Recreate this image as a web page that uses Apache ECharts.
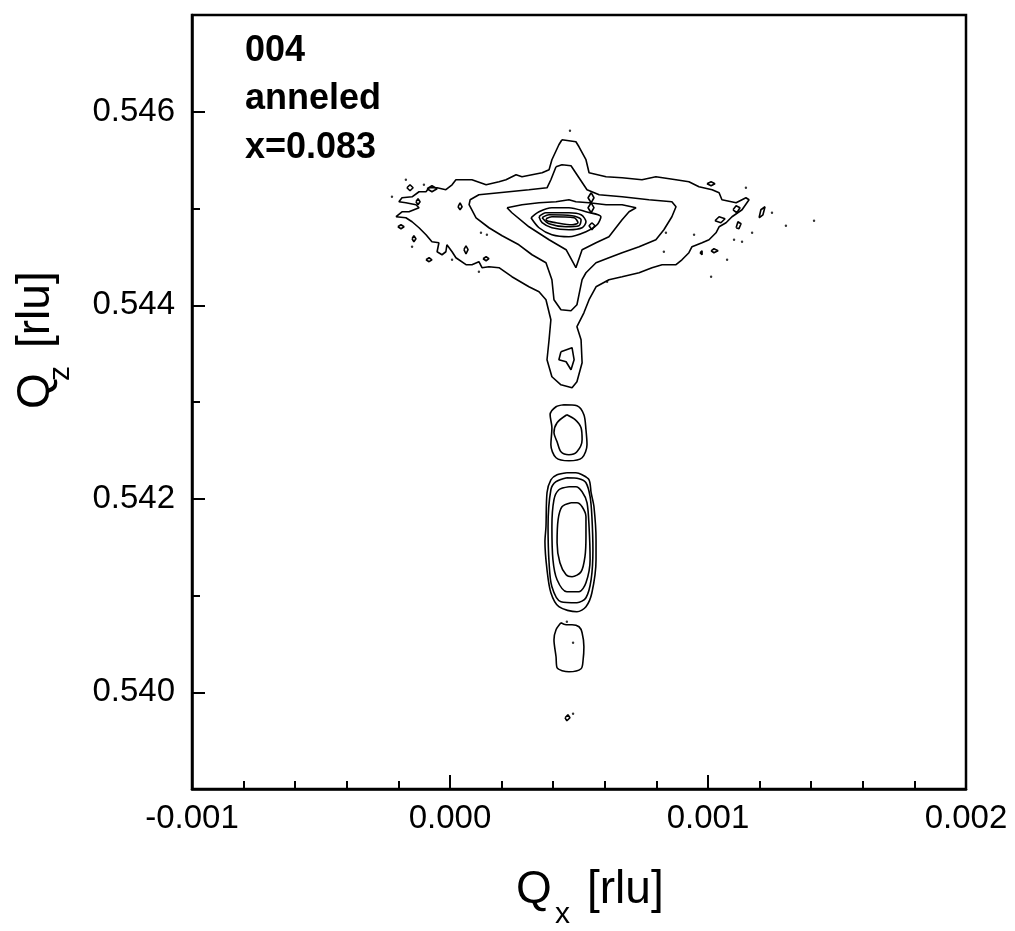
<!DOCTYPE html>
<html>
<head>
<meta charset="utf-8">
<script src="https://cdn.jsdelivr.net/npm/echarts@6/dist/echarts.min.js"></script>
<style>
html,body{margin:0;padding:0;background:#fff;}
#chart{width:1015px;height:931px;}
</style>
</head>
<body>
<div id="chart"></div>
<script>
// ---------- axis settings / labels ----------
const qxRange = [-0.001, 0.002];
const qzRange = [0.539, 0.547];
const qzLabelValues = [0.540, 0.542, 0.544, 0.546];
const annotationLines = ['004', 'anneled', 'x=0.083'];

// ---------- contour lines, [Qx, Qz] in rlu ----------
const contourOuter = [
[0.000434,0.545711],[0.000422,0.545659],[0.000395,0.545504],[0.000384,0.545401],[0.000357,0.545369],
[0.000318,0.545349],[0.000279,0.545328],[0.000256,0.545349],[0.000217,0.545297],[0.000190,0.545276],
[0.000140,0.545245],[0.000085,0.545297],[0.000023,0.545297],[0.000008,0.545245],[-0.000016,0.545194],
[-0.000050,0.545214],[-0.000081,0.545214],[-0.000093,0.545173],[-0.000120,0.545173],[-0.000147,0.545121],
[-0.000186,0.545111],[-0.000198,0.545070],[-0.000171,0.545059],[-0.000132,0.545039],[-0.000120,0.545008],
[-0.000159,0.544966],[-0.000186,0.544966],[-0.000209,0.544915],[-0.000171,0.544904],[-0.000147,0.544863],
[-0.000120,0.544801],[-0.000093,0.544729],[-0.000070,0.544656],[-0.000043,0.544646],[-0.000050,0.544553],
[-0.000031,0.544522],[-0.000016,0.544553],[-0.000012,0.544625],[0.000008,0.544553],[0.000023,0.544491],
[0.000062,0.544419],[0.000085,0.544419],[0.000112,0.544450],[0.000124,0.544388],[0.000151,0.544398],
[0.000190,0.544388],[0.000240,0.544295],[0.000306,0.544191],[0.000345,0.544140],[0.000372,0.544057],
[0.000391,0.543850],[0.000384,0.543643],[0.000376,0.543437],[0.000395,0.543261],[0.000430,0.543178],
[0.000473,0.543147],[0.000492,0.543209],[0.000512,0.543406],[0.000508,0.543643],[0.000492,0.543778],
[0.000519,0.543922],[0.000539,0.544057],[0.000566,0.544191],[0.000616,0.544264],[0.000667,0.544295],
[0.000733,0.544336],[0.000783,0.544388],[0.000822,0.544419],[0.000876,0.544419],[0.000899,0.544470],
[0.000926,0.544543],[0.000938,0.544605],[0.000977,0.544646],[0.001004,0.544677],[0.001031,0.544749],
[0.001043,0.544811],[0.001070,0.544853],[0.001093,0.544915],[0.001132,0.544987],[0.001159,0.545090],
[0.001147,0.545111],[0.001109,0.545059],[0.001054,0.545090],[0.001043,0.545163],[0.001016,0.545194],
[0.000965,0.545225],[0.000926,0.545276],[0.000876,0.545297],[0.000798,0.545328],[0.000744,0.545297],
[0.000667,0.545318],[0.000605,0.545328],[0.000539,0.545369],[0.000527,0.545504],[0.000500,0.545638],
[0.000488,0.545690],[0.000434,0.545711]
];
const contourLevel2 = [
[0.000411,0.545432],[0.000391,0.545297],[0.000376,0.545214],[0.000306,0.545194],[0.000190,0.545163],
[0.000112,0.545142],[0.000078,0.545090],[0.000074,0.545039],[0.000101,0.544904],[0.000151,0.544801],
[0.000202,0.544718],[0.000267,0.544625],[0.000318,0.544522],[0.000372,0.544439],[0.000395,0.544264],
[0.000403,0.544057],[0.000430,0.543953],[0.000469,0.543943],[0.000492,0.544005],[0.000500,0.544109],
[0.000512,0.544264],[0.000527,0.544336],[0.000566,0.544439],[0.000616,0.544491],[0.000667,0.544543],
[0.000733,0.544605],[0.000798,0.544677],[0.000829,0.544780],[0.000860,0.544915],[0.000876,0.545018],
[0.000860,0.545070],[0.000771,0.545090],[0.000667,0.545121],[0.000578,0.545142],[0.000531,0.545194],
[0.000500,0.545318],[0.000469,0.545442],[0.000434,0.545452],[0.000411,0.545432]
];
const contourLevel3 = [
[0.000221,0.545008],[0.000279,0.545039],[0.000345,0.545059],[0.000411,0.545070],[0.000461,0.545090],
[0.000488,0.545070],[0.000539,0.545059],[0.000605,0.545039],[0.000667,0.545039],[0.000721,0.545008],
[0.000694,0.544966],[0.000667,0.544884],[0.000616,0.544708],[0.000566,0.544646],[0.000512,0.544574],
[0.000488,0.544388],[0.000450,0.544574],[0.000384,0.544677],[0.000306,0.544811],[0.000240,0.544956],
[0.000221,0.545008]
];
const contourLevel4 = [
[0.000314,0.544904],[0.000345,0.544966],[0.000395,0.545008],[0.000461,0.545008],[0.000527,0.544966],
[0.000585,0.544915],[0.000570,0.544832],[0.000527,0.544760],[0.000461,0.544708],[0.000395,0.544729],
[0.000345,0.544801],[0.000314,0.544904]
];
const contourLevel5 = [
[0.000345,0.544915],[0.000372,0.544956],[0.000461,0.544956],[0.000508,0.544935],[0.000527,0.544863],
[0.000512,0.544801],[0.000461,0.544780],[0.000395,0.544801],[0.000357,0.544853],[0.000345,0.544915]
];
const contourLevel6 = [
[0.000357,0.544904],[0.000384,0.544935],[0.000473,0.544925],[0.000508,0.544884],[0.000500,0.544822],
[0.000450,0.544811],[0.000384,0.544842],[0.000357,0.544904]
];
const contourLevel7 = [
[0.000372,0.544894],[0.000395,0.544915],[0.000481,0.544904],[0.000496,0.544853],[0.000473,0.544832],
[0.000411,0.544853],[0.000376,0.544873],[0.000372,0.544894]
];
const peakSideLoops = [
[[0.000547,0.545163],[0.000558,0.545111],[0.000547,0.545059],[0.000535,0.545111],[0.000547,0.545163]],
[[0.000547,0.545059],[0.000558,0.545008],[0.000547,0.544956],[0.000535,0.545008],[0.000547,0.545059]],
[[0.000550,0.544853],[0.000562,0.544822],[0.000550,0.544780],[0.000539,0.544822],[0.000550,0.544853]]
];
const spikeLoop = [
[0.000430,0.543519],[0.000473,0.543561],[0.000481,0.543437],[0.000469,0.543333],[0.000450,0.543416],
[0.000422,0.543437],[0.000430,0.543519]
];
const islandMidOuter = [
[0.000442,0.542972],[0.000492,0.542961],[0.000519,0.542868],[0.000527,0.542713],[0.000531,0.542558],
[0.000512,0.542424],[0.000461,0.542393],[0.000411,0.542424],[0.000391,0.542558],[0.000395,0.542734],
[0.000388,0.542868],[0.000411,0.542951],[0.000442,0.542972]
];
const islandMidInner = [
[0.000453,0.542868],[0.000485,0.542817],[0.000508,0.542734],[0.000512,0.542610],[0.000492,0.542486],
[0.000461,0.542455],[0.000430,0.542486],[0.000415,0.542589],[0.000403,0.542682],[0.000415,0.542786],
[0.000453,0.542868]
];
const peakLowRing1 = [
[0.000453,0.542269],[0.000415,0.542248],[0.000391,0.542196],[0.000376,0.542062],[0.000372,0.541711],
[0.000368,0.541556],[0.000376,0.541266],[0.000391,0.541028],[0.000422,0.540884],[0.000492,0.540832],
[0.000527,0.540884],[0.000550,0.541028],[0.000566,0.541370],[0.000566,0.541576],[0.000558,0.541917],
[0.000547,0.542062],[0.000539,0.542196],[0.000512,0.542248],[0.000488,0.542269],[0.000453,0.542269]
];
const peakLowRing2 = [
[0.000453,0.542217],[0.000411,0.542176],[0.000391,0.542093],[0.000380,0.541711],[0.000384,0.541339],
[0.000395,0.541090],[0.000430,0.540935],[0.000492,0.540925],[0.000527,0.540977],[0.000547,0.541163],
[0.000554,0.541473],[0.000550,0.541814],[0.000543,0.542021],[0.000527,0.542165],[0.000500,0.542207],
[0.000453,0.542217]
];
const peakLowRing3 = [
[0.000461,0.542124],[0.000422,0.542093],[0.000403,0.541990],[0.000395,0.541711],[0.000399,0.541370],
[0.000415,0.541163],[0.000453,0.541039],[0.000500,0.541039],[0.000527,0.541132],[0.000543,0.541370],
[0.000539,0.541711],[0.000531,0.541959],[0.000512,0.542072],[0.000488,0.542124],[0.000461,0.542124]
];
const peakLowRing4 = [
[0.000469,0.541959],[0.000434,0.541917],[0.000419,0.541783],[0.000415,0.541545],[0.000426,0.541339],
[0.000450,0.541214],[0.000473,0.541194],[0.000508,0.541245],[0.000523,0.541400],[0.000527,0.541607],
[0.000527,0.541814],[0.000512,0.541917],[0.000492,0.541959],[0.000469,0.541959]
];
const islandLow = [
[0.000430,0.540718],[0.000411,0.540646],[0.000403,0.540542],[0.000411,0.540367],[0.000415,0.540253],
[0.000461,0.540212],[0.000508,0.540243],[0.000516,0.540336],[0.000519,0.540470],[0.000512,0.540615],
[0.000500,0.540677],[0.000473,0.540698],[0.000450,0.540698],[0.000430,0.540718]
];
const islandTiny = [
[0.000446,0.539736],[0.000457,0.539767],[0.000465,0.539736],[0.000453,0.539705],[0.000446,0.539736]
];
const wingIslandsLeft = [
[[-0.000167,0.545214],[-0.000155,0.545245],[-0.000143,0.545214],[-0.000155,0.545183],[-0.000167,0.545214]],
[[-0.000089,0.545204],[-0.000070,0.545235],[-0.000050,0.545204],[-0.000070,0.545173],[-0.000089,0.545204]],
[[-0.000132,0.545070],[-0.000124,0.545101],[-0.000116,0.545070],[-0.000124,0.545039],[-0.000132,0.545070]],
[[0.000031,0.545018],[0.000039,0.545059],[0.000047,0.545018],[0.000039,0.544987],[0.000031,0.545018]],
[[-0.000202,0.544811],[-0.000190,0.544832],[-0.000178,0.544811],[-0.000190,0.544791],[-0.000202,0.544811]],
[[-0.000147,0.544687],[-0.000140,0.544718],[-0.000132,0.544687],[-0.000140,0.544656],[-0.000147,0.544687]],
[[0.000054,0.544574],[0.000062,0.544615],[0.000070,0.544574],[0.000062,0.544532],[0.000054,0.544574]],
[[-0.000093,0.544470],[-0.000081,0.544491],[-0.000070,0.544470],[-0.000081,0.544450],[-0.000093,0.544470]],
[[0.000128,0.544481],[0.000140,0.544501],[0.000151,0.544481],[0.000140,0.544460],[0.000128,0.544481]]
];
const wingIslandsRight = [
[[0.000996,0.545256],[0.001012,0.545276],[0.001027,0.545256],[0.001012,0.545235],[0.000996,0.545256]],
[[0.001097,0.544987],[0.001109,0.545028],[0.001124,0.545008],[0.001112,0.544956],[0.001097,0.544987]],
[[0.001198,0.544904],[0.001205,0.544987],[0.001221,0.545018],[0.001213,0.544935],[0.001198,0.544904]],
[[0.001027,0.544873],[0.001043,0.544915],[0.001066,0.544894],[0.001050,0.544853],[0.001027,0.544873]],
[[0.001109,0.544801],[0.001116,0.544863],[0.001128,0.544842],[0.001120,0.544791],[0.001109,0.544801]],
[[0.001012,0.544563],[0.001023,0.544584],[0.001039,0.544563],[0.001023,0.544543],[0.001012,0.544563]],
[[0.000969,0.544543],[0.000977,0.544563],[0.000984,0.544543],[0.000977,0.544522],[0.000969,0.544543]]
];
const specks = [
[0.000465,0.545804],[0.000477,0.540512],[0.000453,0.540729],[0.000477,0.539778],[0.001411,0.544873],
[0.001147,0.545214],[0.001248,0.544956],[0.001302,0.544822],[0.001171,0.544749],[0.001101,0.544677],
[0.001132,0.544656],[0.001074,0.544470],[0.000837,0.544749],[0.000946,0.544729],[0.000829,0.544553],
[0.001012,0.544295],[-0.000225,0.545121],[-0.000171,0.545297],[-0.000101,0.545245],[0.000120,0.544749],
[0.000143,0.544729],[-0.000147,0.544605],[0.000008,0.544470],[0.000112,0.544346],[0.000609,0.544243]
];

// ---------- build chart ----------
const FONT = "'Liberation Sans', Arial, Helvetica, sans-serif";
const fmt = v => (Math.abs(v) < 1e-9 ? '0.000' : v.toFixed(3));

const roughLines = [contourOuter, contourLevel2, contourLevel3]
  .concat(wingIslandsLeft, wingIslandsRight, peakSideLoops, [spikeLoop, islandTiny]);
const smoothLines = [contourLevel4, contourLevel5, contourLevel6, contourLevel7,
  islandMidOuter, islandMidInner, peakLowRing1, peakLowRing2, peakLowRing3, peakLowRing4, islandLow];

const series = [];
roughLines.forEach(d => series.push({
  type: 'line', data: d, symbol: 'none', smooth: false, silent: true,
  lineStyle: { color: '#000', width: 1.6 }, animation: false
}));
smoothLines.forEach(d => series.push({
  type: 'line', data: d, symbol: 'none', smooth: 0.3, silent: true,
  lineStyle: { color: '#000', width: 1.6 }, animation: false
}));
series.push({
  type: 'scatter', data: specks, symbol: 'circle', symbolSize: 2.4, silent: true,
  itemStyle: { color: '#000' }, animation: false
});

const chart = echarts.init(document.getElementById('chart'), null, { renderer: 'canvas' });
chart.setOption({
  backgroundColor: '#fff',
  animation: false,
  grid: { left: 192, right: 49, top: 15, bottom: 142, show: true, borderColor: '#000', borderWidth: 2.5, backgroundColor: 'transparent' },
  xAxis: {
    type: 'value', min: qxRange[0], max: qxRange[1], interval: 0.001,
    axisLine: { onZero: false, lineStyle: { color: '#000', width: 2.5 } },
    axisTick: { inside: true, length: 14, lineStyle: { color: '#000', width: 2 } },
    minorTick: { show: true, splitNumber: 5, length: 8, lineStyle: { color: '#000', width: 2 } },
    splitLine: { show: false },
    axisLabel: { formatter: fmt, fontSize: 33, color: '#000', fontFamily: FONT, margin: 13 }
  },
  yAxis: [{
    type: 'value', min: qzRange[0], max: qzRange[1],
    axisLine: { onZero: false, lineStyle: { color: '#000', width: 2.5 } },
    axisTick: { inside: true, length: 13, customValues: qzLabelValues, lineStyle: { color: '#000', width: 2 } },
    splitLine: { show: false },
    axisLabel: { customValues: qzLabelValues, formatter: fmt, fontSize: 33, color: '#000', fontFamily: FONT, margin: 17 }
  }, {
    type: 'value', min: qzRange[0], max: qzRange[1], interval: 0.001, position: 'left', offset: 0,
    axisLine: { show: false, onZero: false },
    axisTick: { inside: true, length: 8, lineStyle: { color: '#000', width: 2 } },
    axisLabel: { show: false },
    splitLine: { show: false }
  }],
  graphic: [
    { type: 'text', x: 245, y: 51, style: { text: annotationLines[0], fontSize: 36, fontWeight: 'bold', fontFamily: FONT, fill: '#000', align: 'left', verticalAlign: 'middle' } },
    { type: 'text', x: 245, y: 99, style: { text: annotationLines[1], fontSize: 36, fontWeight: 'bold', fontFamily: FONT, fill: '#000', align: 'left', verticalAlign: 'middle' } },
    { type: 'text', x: 245, y: 148, style: { text: annotationLines[2], fontSize: 36, fontWeight: 'bold', fontFamily: FONT, fill: '#000', align: 'left', verticalAlign: 'middle' } },
    { type: 'text', x: 516, y: 890, style: { text: 'Q', fontSize: 46, fontFamily: FONT, fill: '#000', align: 'left', verticalAlign: 'middle' } },
    { type: 'text', x: 555, y: 915, style: { text: 'x', fontSize: 30, fontFamily: FONT, fill: '#000', align: 'left', verticalAlign: 'middle' } },
    { type: 'text', x: 587, y: 890, style: { text: '[rlu]', fontSize: 46, fontFamily: FONT, fill: '#000', align: 'left', verticalAlign: 'middle' } },
    { type: 'text', x: 36, y: 409, rotation: Math.PI / 2, style: { text: 'Q', fontSize: 46, fontFamily: FONT, fill: '#000', align: 'left', verticalAlign: 'middle' } },
    { type: 'text', x: 61, y: 381, rotation: Math.PI / 2, style: { text: 'z', fontSize: 30, fontFamily: FONT, fill: '#000', align: 'left', verticalAlign: 'middle' } },
    { type: 'text', x: 36, y: 348, rotation: Math.PI / 2, style: { text: '[rlu]', fontSize: 46, fontFamily: FONT, fill: '#000', align: 'left', verticalAlign: 'middle' } }
  ],
  series: series
});
</script>
</body>
</html>
